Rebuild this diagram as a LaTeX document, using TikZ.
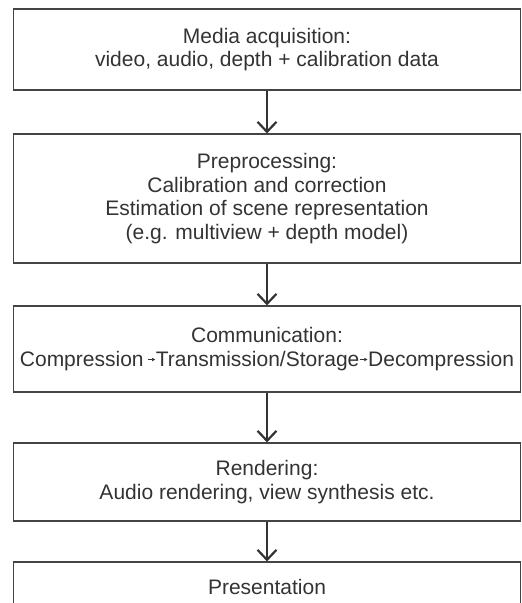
\documentclass[tikz,border=0pt]{standalone}
\usepackage{fontspec}
\setmainfont{Liberation Sans}
\usetikzlibrary{arrows.meta}
\definecolor{txt}{HTML}{333333}
\definecolor{edge}{HTML}{444444}
\newcommand{\smallarr}{\tikz[baseline=-0.6ex]\draw[line width=0.8pt,-{Latex[length=3.5pt,width=3.8pt]}] (0,0)--(8pt,0);}
\tikzset{
  stage/.style={draw=edge, line width=1.2pt, minimum width=507pt, inner sep=0pt,
    align=center, text=txt, font=\fontsize{21}{23.5}\selectfont},
  flow/.style={draw=txt, line width=2.2pt, -{Straight Barb[length=10pt,width=19pt,line width=2.2pt]}}
}
\begin{document}
\begin{tikzpicture}[x=1pt,y=1pt]
\useasboundingbox (0,0) rectangle (522,-603);
\clip (0,0) rectangle (522,-603);
\node[stage, minimum height=81pt] (b1) at (267,-49.5) {Media acquisition:\\video, audio, depth + calibration data};
\node[stage, minimum height=129pt] (b2) at (267,-198.5) {Preprocessing:\\Calibration and correction\\Estimation of scene representation\\(e.g. multiview + depth model)};
\node[stage, minimum height=86pt] (b3) at (267,-349) {Communication:\\Compression\,\smallarr Transmission/Storage\smallarr Decompression};
\node[stage, minimum height=78pt] (b4) at (267,-482) {Rendering:\\Audio rendering, view synthesis etc.};
\node[stage, minimum height=50pt] (b5) at (267,-587) {Presentation};
\draw[flow] (b1.south) -- (b2.north);
\draw[flow] (b2.south) -- (b3.north);
\draw[flow] (b3.south) -- (b4.north);
\draw[flow] (b4.south) -- (b5.north);
\end{tikzpicture}
\end{document}
